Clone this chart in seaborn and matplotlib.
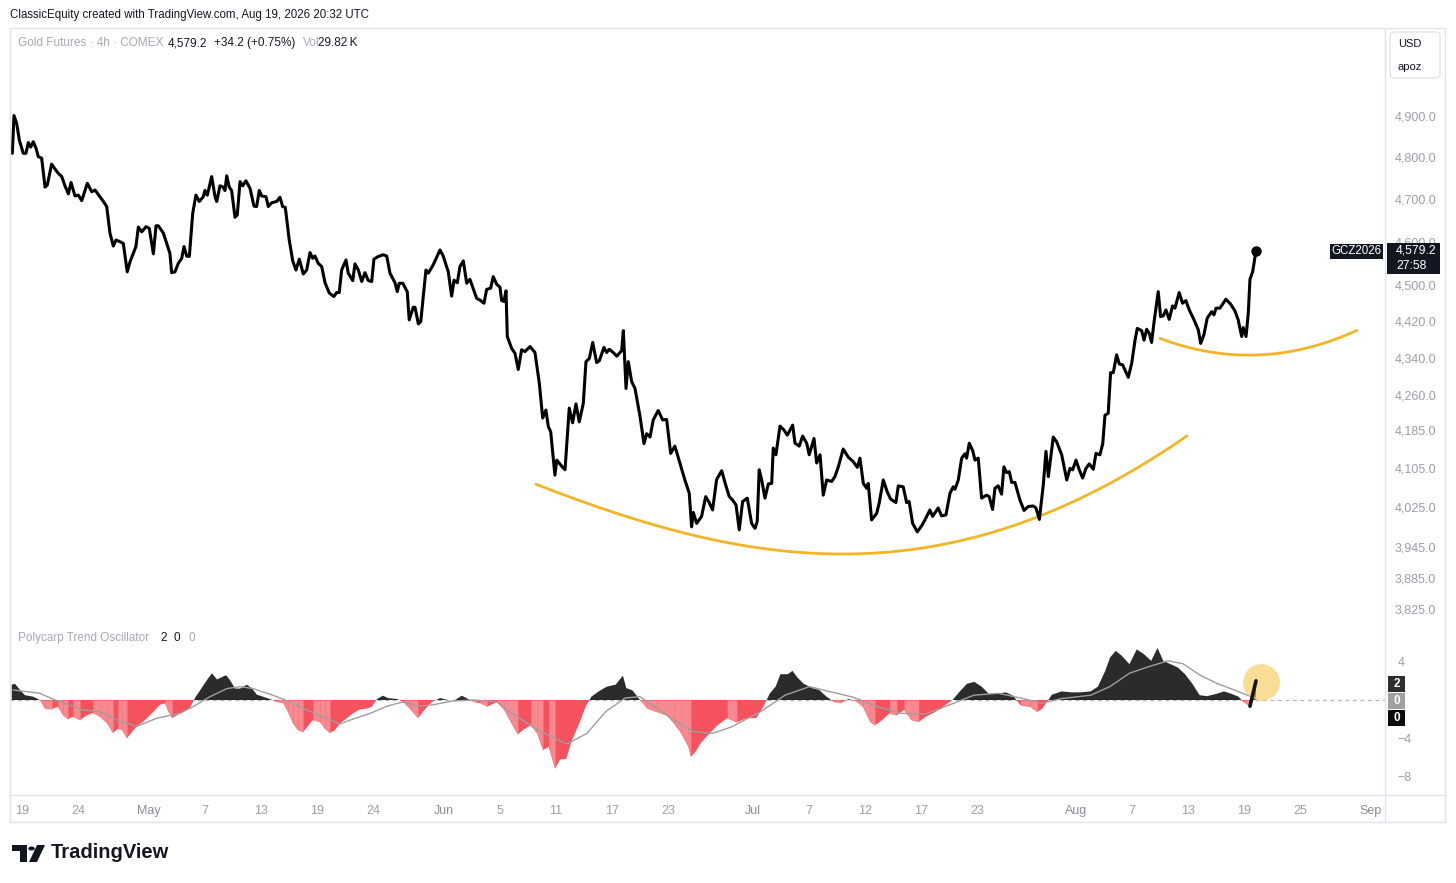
import numpy as np
import matplotlib
matplotlib.use("Agg")
import matplotlib.pyplot as plt
import seaborn as sns
from matplotlib.ticker import FixedLocator, FuncFormatter, NullLocator
from matplotlib.patches import Rectangle, Circle, Polygon, FancyBboxPatch
from matplotlib.lines import Line2D

# ---------------- data (x = trading-day index from the Apr 20 session) ----------------
days_a = [-0.69, -0.57, -0.38, -0.19, 0.09, 0.28, 0.45, 0.62, 0.80, 1.00,
          1.16, 1.40, 1.64, 1.80, 2.11, 2.35, 2.58, 2.83, 3.06, 3.30,
          3.49, 3.77, 4.01, 4.25, 4.65, 4.96, 5.20, 5.55, 5.79, 6.03,
          6.26, 6.50, 6.69, 6.97, 7.21, 7.49, 7.69, 7.92, 8.11, 8.28,
          8.52, 8.83, 9.06, 9.35, 9.54, 9.70, 10.06, 10.30, 10.53, 10.65,
          10.89, 11.12, 11.37, 11.53, 11.72, 11.91, 12.15, 12.38, 12.62, 12.90,
          13.02, 13.19, 13.50, 13.74, 13.86, 14.09, 14.28, 14.45, 14.57, 14.75,
          14.92, 15.16, 15.32, 15.52, 15.71, 15.94, 16.23, 16.51, 16.70, 16.89,
          17.06, 17.37, 17.53, 17.77, 18.13, 18.36, 18.55, 18.74, 19.02, 19.27,
          19.50, 19.74, 20.02, 20.26, 20.50, 20.69, 20.85, 21.09, 21.33, 21.57,
          21.87]
price_a = [4809, 4901, 4882, 4841, 4809, 4809, 4835, 4824, 4837, 4821,
           4801, 4797, 4728, 4733, 4783, 4771, 4761, 4753, 4731, 4712,
           4739, 4707, 4709, 4696, 4737, 4717, 4721, 4705, 4694, 4682,
           4620, 4590, 4604, 4600, 4596, 4531, 4554, 4573, 4589, 4634,
           4623, 4635, 4631, 4572, 4637, 4637, 4620, 4596, 4573, 4529,
           4531, 4550, 4562, 4589, 4567, 4566, 4666, 4709, 4694, 4705,
           4720, 4709, 4753, 4705, 4694, 4731, 4729, 4720, 4755, 4728,
           4720, 4657, 4662, 4741, 4731, 4743, 4725, 4683, 4682, 4720,
           4707, 4705, 4682, 4691, 4694, 4704, 4682, 4680, 4604, 4556,
           4535, 4560, 4526, 4535, 4575, 4562, 4567, 4550, 4543, 4506,
           4483]

days_b = [22.20, 22.39, 22.58, 22.75, 23.06, 23.22, 23.54, 23.70, 23.94, 24.18,
          24.41, 24.65, 24.89, 25.05, 25.36, 25.71, 25.96, 26.19, 26.55, 26.71,
          26.85, 27.10, 27.42, 27.56, 27.85, 27.97, 28.21, 28.38, 28.75, 28.92,
          29.27, 29.75, 29.98, 30.34, 30.58, 30.75, 30.98, 31.17, 31.41, 31.65,
          31.88, 32.36, 32.60, 32.88, 33.07, 33.36, 33.54, 33.78, 34.02, 34.14,
          34.30, 34.45, 34.54, 34.85, 35.09, 35.32, 35.56, 35.80, 36.16, 36.51,
          36.82, 37.06, 37.29, 37.46, 37.63, 37.93, 38.06, 38.48, 38.65, 38.95,
          39.19, 39.43, 39.66, 39.95, 40.14, 40.38, 40.62, 40.90, 41.09, 41.42,
          41.61, 41.80, 42.08, 42.33, 42.68, 42.80, 42.99, 43.15, 43.39, 43.63,
          43.99, 44.27, 44.46, 44.70]
price_b = [4475, 4484, 4484, 4535, 4558, 4528, 4511, 4549, 4535, 4509,
           4529, 4511, 4509, 4560, 4566, 4570, 4567, 4528, 4506, 4486,
           4505, 4505, 4486, 4423, 4451, 4451, 4414, 4419, 4535, 4528,
           4547, 4581, 4567, 4531, 4476, 4512, 4506, 4543, 4556, 4505,
           4514, 4471, 4467, 4460, 4491, 4494, 4520, 4503, 4496, 4466,
           4464, 4488, 4386, 4360, 4349, 4314, 4357, 4353, 4364, 4351,
           4284, 4210, 4227, 4192, 4181, 4091, 4122, 4107, 4102, 4231,
           4200, 4240, 4202, 4241, 4331, 4338, 4373, 4329, 4333, 4362,
           4351, 4358, 4351, 4343, 4355, 4399, 4273, 4331, 4288, 4273,
           4213, 4156, 4177, 4170]

days_c = [44.93, 45.28, 45.60, 45.88, 46.17, 46.47, 46.83, 47.18, 47.49, 47.66,
          47.78, 48.02, 48.37, 48.66, 48.91, 49.15, 49.44, 49.80, 50.10, 50.34,
          50.58, 50.82, 51.05, 51.29, 51.62, 51.93, 52.17, 52.33, 52.47, 52.64,
          52.88, 53.12, 53.36, 53.47, 53.66, 53.95, 54.23, 54.47, 54.85, 55.02,
          55.32, 55.56, 55.85, 56.03, 56.37, 56.56, 56.80, 57.03, 57.27, 57.63,
          57.86, 58.10, 58.45, 58.81, 59.16, 59.45, 59.64, 59.88, 60.12, 60.23,
          60.47, 60.83, 61.01, 61.30, 61.58, 61.82, 62.20, 62.37, 62.72, 62.96,
          63.14, 63.39, 63.72, 64.03, 64.27, 64.62, 64.81, 65.21, 65.45, 65.76,
          66.05, 66.28, 66.40, 66.64, 66.88, 67.11, 67.23, 67.42, 67.66, 67.83,
          68.06, 68.30, 68.66, 68.84, 69.08, 69.25, 69.48, 69.72, 69.89, 70.08,
          70.27, 70.44, 70.67, 71.03, 71.32, 71.62, 71.98, 72.17, 72.41, 72.69,
          72.88, 73.05, 73.40, 73.64]
price_c = [4206, 4226, 4206, 4207, 4136, 4151, 4115, 4081, 4054, 3986,
           4015, 3993, 4007, 4047, 4035, 4020, 4082, 4100, 4069, 4047,
           4040, 4030, 3980, 4037, 4044, 3993, 3983, 3997, 4102, 4082,
           4044, 4073, 4074, 4147, 4133, 4193, 4185, 4174, 4195, 4157,
           4151, 4172, 4157, 4133, 4167, 4116, 4133, 4050, 4081, 4078,
           4088, 4108, 4145, 4128, 4119, 4107, 4126, 4074, 4064, 4074,
           4000, 4013, 4034, 4081, 4057, 4042, 4035, 4069, 4067, 4035,
           4037, 3993, 3976, 3988, 4000, 4020, 4007, 4024, 4008, 4010,
           4054, 4067, 4062, 4081, 4126, 4135, 4126, 4157, 4142, 4122,
           4126, 4044, 4050, 4047, 4021, 4064, 4069, 4052, 4108, 4096,
           4098, 4076, 4076, 4040, 4019, 4027, 4028, 4024, 4001, 4071,
           4140, 4088, 4170, 4160]

days_d = [74.00, 74.36, 74.59, 74.78, 75.02, 75.25, 75.49, 75.73, 75.96, 76.25,
          76.44, 76.72, 76.92, 77.08, 77.31, 77.48, 77.67, 77.91, 78.10, 78.34,
          78.74, 78.98, 79.22, 79.38, 79.69, 79.86, 80.05, 80.23, 80.40, 80.56,
          80.87, 81.04, 81.23, 81.42, 81.65, 81.89, 82.06, 82.36, 82.60, 82.84,
          83.08, 83.36, 83.72, 83.89, 84.12, 84.36, 84.67, 84.84, 84.98, 85.26,
          85.69, 86.02, 86.33, 86.56, 86.81, 86.92, 87.12, 87.28, 87.40, 87.59,
          87.83]
price_d = [4133, 4081, 4105, 4102, 4122, 4102, 4085, 4105, 4114, 4103,
           4136, 4133, 4156, 4216, 4220, 4307, 4307, 4346, 4326, 4324,
           4297, 4327, 4378, 4404, 4399, 4378, 4402, 4393, 4373, 4415,
           4486, 4430, 4432, 4445, 4424, 4454, 4449, 4484, 4460, 4466,
           4445, 4427, 4401, 4371, 4390, 4427, 4441, 4434, 4449, 4449,
           4469, 4458, 4443, 4423, 4386, 4406, 4386, 4438, 4514, 4531,
           4579.2]

# hand-drawn arcs
arc_big_day = [36.58, 41.14, 44.69, 48.11, 51.81, 55.37, 58.64, 62.49, 66.05, 69.61, 71.74, 73.80, 76.72, 79.57, 82.91]
arc_big_val = [4073, 4024, 3990, 3968, 3948, 3936, 3932, 3938, 3954, 3978, 4000, 4020, 4067, 4112, 4170]
arc_small_day = [80.99, 83.13, 85.26, 87.40, 89.53, 91.67, 93.80, 95.01]
arc_small_val = [4381, 4363, 4350, 4343, 4348, 4365, 4385, 4398]

# oscillator histogram
osc_day_a = [-0.73, -0.50, -0.14, 0.21, 0.78, 1.28, 1.64, 2.14, 2.56, 2.92,
             3.27, 3.63, 4.13, 4.63, 5.05, 5.55, 6.05, 6.48, 6.83, 7.12,
             7.47, 7.83, 8.18, 8.61, 9.11, 9.47, 9.82, 10.18, 10.39, 10.68,
             11.03, 11.46, 11.96, 12.31, 12.67, 13.17, 13.52, 13.88, 14.23, 14.52,
             14.80, 15.16, 15.52, 16.01, 16.37, 16.72, 17.15, 17.65, 18.15, 18.58,
             18.93, 19.29, 19.64, 20.00, 20.35, 20.71, 21.21, 21.56, 21.92, 22.28,
             22.63, 23.13, 23.56, 24.06, 24.55, 24.91, 25.27, 25.69, 26.05, 26.69,
             27.12, 27.61, 28.18, 28.68, 29.18, 29.75, 30.32, 30.82, 31.31, 31.88,
             32.38]
osc_val_a = [1.6, 1.7, 1.05, 0.5, 0.35, 0.0, -0.9, -0.95, -0.7, -1.6,
             -2.0, -1.75, -2.1, -1.6, -1.35, -1.75, -2.45, -3.45, -3.0, -3.15,
             -4.0, -3.35, -2.75, -2.3, -1.6, -1.05, -0.5, -0.35, -1.1, -1.9,
             -1.6, -1.25, -0.8, 0.2, 1.0, 2.1, 2.8, 2.15, 2.4, 2.6,
             2.1, 1.2, 1.2, 1.6, 1.2, 0.55, 0.35, 0.1, -0.2, -0.3,
             -1.25, -2.45, -3.15, -3.35, -2.75, -2.1, -2.3, -3.0, -3.45, -3.15,
             -2.45, -1.9, -1.4, -0.98, -0.9, -0.7, 0.1, 0.45, 0.2, 0.1,
             -0.2, -0.9, -1.9, -0.98, -0.2, 0.2, 0.0, 0.0, 0.45, 0.0,
             -0.3]
osc_day_b = [32.60, 33.12, 33.81, 34.32, 34.84, 35.29, 35.70, 36.22, 36.67, 37.08,
             37.49, 37.94, 38.29, 38.74, 39.15, 39.67, 40.12, 40.53, 41.05, 41.63,
             42.25, 42.77, 43.01, 43.46, 43.98, 44.50, 45.19, 45.88, 46.40, 46.92,
             47.43, 47.60, 47.95, 48.29, 48.81, 49.50, 50.19, 50.88, 51.57, 52.26,
             52.77, 53.23, 53.64, 53.98, 54.50, 54.84, 55.19, 55.64, 56.22, 56.74,
             57.26, 57.78, 58.30, 58.81, 59.33, 59.85, 60.37, 60.71, 61.23, 61.75,
             62.26, 62.78, 63.30, 63.82, 64.33, 65.02, 65.71, 66.23, 66.75, 67.26,
             67.78, 68.30, 68.81, 69.33, 70.02, 70.54, 71.06, 71.75, 72.27, 72.62,
             72.96, 73.30, 73.99, 74.68, 75.37, 76.06, 76.58, 77.10, 77.44, 77.85,
             78.30, 78.82, 79.34, 79.85, 80.37, 80.82, 81.23, 81.75, 82.27, 82.78,
             83.30, 83.82, 84.34, 85.03, 85.55, 86.07, 86.58, 86.92, 87.40, 87.83]
osc_val_b = [-0.3, -0.7, -0.2, -1.05, -2.45, -3.6, -3.1, -2.65, -3.5, -5.25,
             -4.9, -7.2, -6.25, -6.15, -4.2, -2.45, -0.7, 0.35, 0.9, 1.4,
             1.6, 2.55, 1.25, 1.0, 0.0, -0.9, -1.25, -1.6, -2.45, -3.5,
             -4.9, -5.95, -5.4, -4.55, -3.7, -2.65, -1.9, -2.35, -1.9, -1.9,
             -0.7, 0.7, 1.4, 2.7, 2.7, 3.05, 2.35, 1.7, 1.25, 1.05,
             0.35, -0.2, -0.3, 0.1, -0.1, -0.7, -2.3, -2.65, -2.1, -1.4,
             -1.6, -1.05, -2.1, -2.3, -1.75, -1.25, -0.55, 0.0, 0.9, 1.7,
             1.9, 1.4, 0.65, 0.65, 0.8, 0.45, -0.55, -0.7, -1.25, -0.9,
             -0.2, 0.55, 0.9, 0.8, 0.8, 0.9, 1.4, 3.05, 4.45, 5.15,
             4.6, 3.75, 5.3, 4.8, 4.1, 5.45, 4.1, 3.75, 3.4, 2.7,
             1.7, 0.5, 0.4, 0.65, 0.9, 0.65, 0.35, -0.2, -0.65, 2.0]

# oscillator signal line
sig_day = [-0.64, 1.28, 2.35, 4.34, 5.55, 6.76, 8.18, 9.61, 11.24, 12.17,
           13.38, 14.59, 15.52, 16.44, 17.86, 19.07, 20.28, 21.42, 22.63, 23.56,
           24.77, 25.98, 27.12, 28.33, 29.25, 30.67, 32.10, 33.81, 34.66, 36.72,
           38.79, 40.21, 41.56, 42.92, 43.98, 45.01, 46.40, 47.75, 49.16, 50.53,
           52.59, 54.30, 56.05, 57.43, 59.14, 60.89, 62.61, 64.34, 65.69, 67.75,
           69.50, 71.24, 72.59, 73.99, 76.06, 77.43, 78.82, 80.21, 81.56, 82.63,
           83.84, 85.03, 86.19, 87.40, 87.83]
sig_val = [1.05, 0.7, 0.0, -1.05, -1.2, -2.1, -2.75, -1.9, -1.4, -0.7,
           0.35, 1.2, 1.4, 1.2, 0.5, -0.2, -1.05, -1.75, -2.5, -2.0,
           -1.4, -0.65, -0.2, -0.65, -0.5, -0.1, 0.0, -0.2, -1.2, -3.15,
           -4.6, -3.5, -1.2, 0.2, 0.35, -0.7, -2.1, -3.3, -3.5, -2.8,
           -1.2, 0.5, 1.4, 0.9, 0.3, -0.7, -1.4, -1.45, -0.7, 0.5,
           0.7, 0.15, -0.35, 0.15, 0.5, 1.4, 2.8, 3.5, 4.1, 3.8,
           2.6, 1.75, 1.1, 0.4, 0.2]

price_ticks = [4900, 4800, 4700, 4600, 4500, 4420, 4340, 4260, 4185, 4105, 4025, 3945, 3885, 3825]
osc_ticks = [4, -4, -8]
osc_tick_labels = ["4", "\u22124", "\u22128"]
date_labels = ["19", "24", "May", "7", "13", "19", "24", "Jun", "5", "11", "17", "23",
               "Jul", "7", "12", "17", "23", "Aug", "7", "13", "19", "25", "Sep"]
date_values = ["2026-04-19", "2026-04-24", "2026-05-01", "2026-05-07", "2026-05-13", "2026-05-19",
               "2026-05-24", "2026-06-01", "2026-06-05", "2026-06-11", "2026-06-17", "2026-06-23",
               "2026-07-01", "2026-07-07", "2026-07-12", "2026-07-17", "2026-07-23", "2026-08-02",
               "2026-08-07", "2026-08-13", "2026-08-19", "2026-08-25", "2026-09-01"]
last_price = 4579.2

# ---------------- figure ----------------
sns.set_theme(style="white")
plt.rcParams['font.family'] = ['Liberation Sans', 'DejaVu Sans']

W, H = 1456, 883
def fx(px): return px / W
def fy(py): return 1 - py / H

fig = plt.figure(figsize=(W / 100, H / 100), dpi=100)
fig.patch.set_facecolor('white')

PL, PR = 10, 1385
XMIN, XMAX = (PL - 22) / 14.05, (PR - 22) / 14.05
ax = fig.add_axes([fx(PL), fy(627), (PR - PL) / W, (627 - 28) / H])
axo = fig.add_axes([fx(PL), fy(795), (PR - PL) / W, (795 - 628) / H])
for a in (ax, axo):
    a.set_facecolor('none')
    for s in a.spines.values():
        s.set_visible(False)
    a.grid(False)

GRAY = '#9b9ea6'
INK = '#131722'

# price line
pdays = days_a + days_b + days_c + days_d
pvals = price_a + price_b + price_c + price_d
ax.set_yscale('log')
sns.lineplot(x=pdays, y=pvals, ax=ax, color='black', linewidth=2.2,
             estimator=None, sort=False, zorder=5)
ax.plot([pdays[-1]], [pvals[-1]], 'o', color='black', ms=6.5, zorder=6)

# arcs
for d, v, deg in [(arc_big_day, arc_big_val, 4), (arc_small_day, arc_small_val, 2)]:
    coef = np.polyfit(d, np.log(v), deg)
    xs = np.linspace(d[0], d[-1], 300)
    ax.plot(xs, np.exp(np.polyval(coef, xs)), color='#f2b526', lw=2.0,
            solid_capstyle='round', zorder=4)

ax.set_xlim(XMIN, XMAX)
ax.set_ylim(3790.4, 5121.5)
ax.yaxis.set_major_locator(FixedLocator(price_ticks))
ax.yaxis.set_minor_locator(NullLocator())
ax.yaxis.set_major_formatter(FuncFormatter(lambda v, p: f"{v:,.1f}"))
ax.yaxis.tick_right()
ax.tick_params(axis='y', length=0, pad=7, labelsize=9, labelcolor=GRAY)
ax.set_xticks([])
ax.set_xlabel(''); ax.set_ylabel('')

# oscillator
od = np.array(osc_day_a + osc_day_b)
ov = np.array(osc_val_a + osc_val_b)
axo.axhline(0, color='#b2b5be', lw=0.9, ls=(0, (3, 3)), zorder=1)
axo.fill_between(od, ov, 0, where=ov >= 0, interpolate=True, color='#2b2b2b', lw=0, zorder=3)
axo.fill_between(od, ov, 0, where=ov <= 0, interpolate=True, color='#f5525e', lw=0, zorder=3)
for i in range(len(od) - 1):
    if ov[i] <= 0 and ov[i + 1] <= 0 and ov[i + 1] < ov[i]:
        axo.fill_between(od[i:i + 2], ov[i:i + 2], 0, color='#f78a90', lw=0, zorder=3.5)
sns.lineplot(x=sig_day, y=sig_val, ax=axo, color='#9e9e9e', linewidth=1.0,
             estimator=None, sort=False, zorder=4)
axo.scatter([88.19], [1.88], s=700, color='#f8cc5c', alpha=0.65, linewidths=0, zorder=5)
axo.plot(od[-2:], ov[-2:], color='#151515', lw=2.6, solid_capstyle='round', zorder=6)

axo.set_xlim(XMIN, XMAX)
axo.set_ylim(-9.95, 7.54)
axo.yaxis.tick_right()
axo.set_yticks(osc_ticks)
axo.set_yticklabels(osc_tick_labels)
axo.tick_params(axis='y', length=0, pad=9, labelsize=9, labelcolor=GRAY)
base = np.datetime64('2026-04-20')
tick_idx = [float(np.busday_count(base, np.busday_offset(np.datetime64(d), 0, roll='forward')))
            for d in date_values]
axo.xaxis.set_major_locator(FixedLocator(tick_idx))
axo.set_xticklabels(date_labels)
axo.tick_params(axis='x', length=0, pad=7, labelsize=9, labelcolor=GRAY)
for lab, t in zip(axo.get_xticklabels(), date_labels):
    if not t.isdigit():
        lab.set_color('#8a8d96')
axo.set_xlabel(''); axo.set_ylabel('')
axo.set_xlim(XMIN, XMAX)

# ---------------- frame ----------------
def hline(y, x0, x1, c='#e0e3eb', lw=1.0):
    fig.add_artist(Line2D([fx(x0), fx(x1)], [fy(y), fy(y)], transform=fig.transFigure, color=c, lw=lw))
def vline(x, y0, y1, c='#e0e3eb', lw=1.0):
    fig.add_artist(Line2D([fx(x), fx(x)], [fy(y0), fy(y1)], transform=fig.transFigure, color=c, lw=lw))
def box(x0, y0, x1, y1, color, z=10):
    fig.add_artist(Rectangle((fx(x0), fy(y1)), (x1 - x0) / W, (y1 - y0) / H,
                             transform=fig.transFigure, facecolor=color, edgecolor='none', zorder=z))
def txt(x, y, s, color=INK, size=8.5, ha='left', weight='normal', z=11):
    fig.text(fx(x), fy(y), s, color=color, fontsize=size, ha=ha, va='center',
             fontweight=weight, zorder=z)

hline(28, 10, 1445); hline(822, 10, 1445); hline(795, 10, 1445)
vline(10, 28, 822); vline(1445, 28, 822); vline(1385, 28, 822)

# header / legends
txt(10, 15, "ClassicEquity created with TradingView.com, Aug 19, 2026 20:32 UTC", size=8.3)
txt(18, 43, "Gold Futures \u00b7 4h \u00b7 COMEX", color='#a6a9b1', size=8.5)
txt(168, 43, "4,579.2", size=8.5)
txt(214, 43, "+34.2 (+0.75%)", size=8.5)
txt(303, 43, "Vol", color='#a6a9b1', size=8.5)
txt(318, 43, "29.82\u2009K", size=8.5)
txt(18, 638, "Polycarp Trend Oscillator", color='#a6a9b1', size=8.5)
txt(160, 638, "2", size=8.5)
txt(174, 638, "0", size=8.5)
txt(188, 638, "0", color='#a6a9b1', size=8.5)

# USD box
fig.add_artist(FancyBboxPatch((fx(1390), fy(78)), 50 / W, 46 / H, boxstyle="round,pad=0,rounding_size=0.004",
                              transform=fig.transFigure, facecolor='white', edgecolor='#e0e3eb', lw=1, zorder=9))
txt(1398, 44, "USD", size=8)
txt(1398, 67, "apoz", size=8)

# price tag tied to last price
fig.canvas.draw()
ypx = H - ax.transData.transform((0, last_price))[1]
box(1387, ypx - 8, 1440, ypx + 23, '#131722')
txt(1396, ypx, "4,579.2", color='white', size=8.8)
txt(1396, ypx + 15, "27:58", color='white', size=8.8)
box(1330, ypx - 7, 1383, ypx + 8, '#131722')
txt(1356.5, ypx, "GCZ2026", color='white', size=8.3, ha='center')

# oscillator value boxes
box(1388, 676, 1405, 692, '#2e2e2e')
txt(1396.5, 684, "2", color='white', size=8.5, ha='center', weight='bold')
box(1388, 693, 1405, 709, '#a0a0a0')
txt(1396.5, 701, "0", color='white', size=8.5, ha='center', weight='bold')
box(1388, 710, 1405, 726, '#0c0c0c')
txt(1396.5, 718, "0", color='white', size=8.5, ha='center', weight='bold')

# TradingView logo
fig.add_artist(Polygon([(fx(12), fy(845)), (fx(27), fy(845)), (fx(27), fy(862)), (fx(20), fy(862)),
                        (fx(20), fy(851)), (fx(12), fy(851))], closed=True, transform=fig.transFigure,
                       facecolor=INK, edgecolor='none'))
fig.add_artist(Circle((fx(31.5), fy(848.5)), 3.3 / W, transform=fig.transFigure, facecolor=INK, edgecolor='none'))
fig.add_artist(Polygon([(fx(37), fy(845)), (fx(45), fy(845)), (fx(37), fy(862)), (fx(29), fy(862))],
                       closed=True, transform=fig.transFigure, facecolor=INK, edgecolor='none'))
txt(51, 853, "TradingView", size=14.5, weight='bold')

fig.savefig("out.png", dpi=100, facecolor='white')
